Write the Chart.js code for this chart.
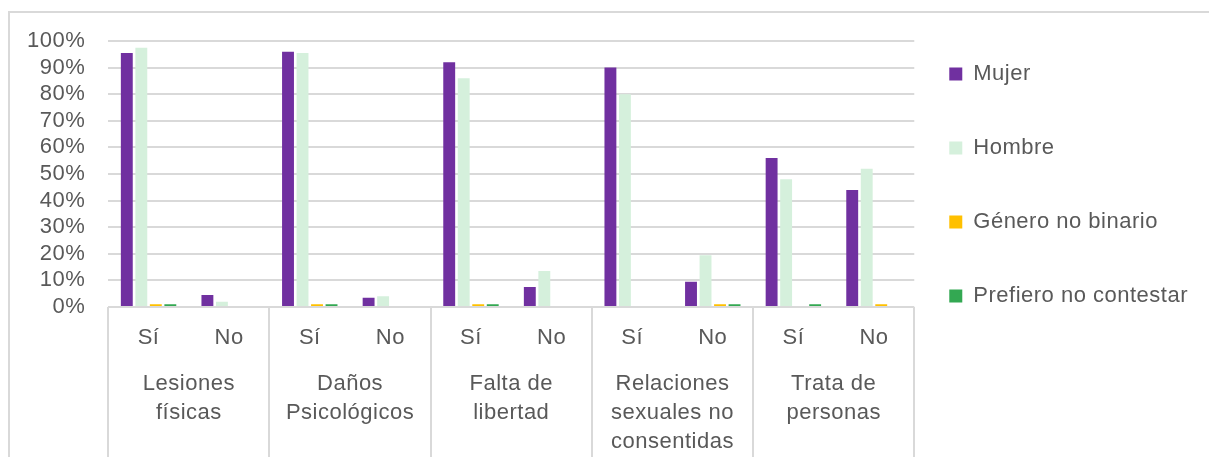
<!DOCTYPE html>
<html>
<head>
<meta charset="utf-8">
<script src="https://cdn.jsdelivr.net/npm/chart.js@4.4.1/dist/chart.umd.min.js"></script>
<style>
  body { margin: 0; background: #fff; }
  #frame { position: absolute; left: 8px; top: 11px; width: 1220px; height: 470px; border: 2px solid #d9d9d9; box-sizing: border-box; }
  #wrap { position: absolute; left: 0; top: 0; width: 1209px; height: 457px; }
</style>
</head>
<body>
<div id="frame"></div>
<div id="wrap"><canvas id="chart1"></canvas></div>
<script>
// sub-categories on the first axis line, groups below them
const answers = ['Sí', 'No', 'Sí', 'No', 'Sí', 'No', 'Sí', 'No', 'Sí', 'No'];
const groups = [
  ['Lesiones', 'físicas'],
  ['Daños', 'Psicológicos'],
  ['Falta de', 'libertad'],
  ['Relaciones', 'sexuales no', 'consentidas'],
  ['Trata de', 'personas']
];
const seriesNames = ['Mujer', 'Hombre', 'Género no binario', 'Prefiero no contestar'];

// percentages
const mujer    = [95.5, 4.5, 96, 3.5, 92, 7.5, 90, 9.5, 56, 44];
const hombre   = [97.5, 2, 95.5, 4, 86, 13.5, 80, 19.5, 48, 52];
const noBinario = [1, 0, 1, 0, 1, 0, 0, 1, 0, 1];
const noContesta = [1, 0, 1, 0, 1, 0, 0, 1, 1, 0];

const yTicks = [0, 10, 20, 30, 40, 50, 60, 70, 80, 90, 100];

const colors = ['#7030a0', '#d5f0dc', '#ffc000', '#33a852'];
const grey = '#d9d9d9';
const textColor = '#595959';
const fontFam = '"Liberation Sans", Arial, sans-serif';

let ctx = document.getElementById('chart1').getContext('2d');

// the original text is a bit wider than Liberation Sans
const spacing = {
  id: 'spacing',
  beforeUpdate: (ch) => { ch.ctx.letterSpacing = '0.5px'; },
  beforeDraw: (ch) => { ch.ctx.letterSpacing = '0.5px'; }
};

let chart = new Chart(ctx, {
  type: 'bar',
  data: {
    labels: answers,
    datasets: [mujer, hombre, noBinario, noContesta].map((vals, i) => ({
      label: seriesNames[i],
      data: vals,
      backgroundColor: colors[i],
      borderWidth: 0,
      categoryPercentage: 0.72,
      barPercentage: 0.82
    }))
  },
  plugins: [spacing],
  options: {
    responsive: true,
    maintainAspectRatio: false,
    animation: false,
    layout: { padding: { left: 4, right: 11, top: 28, bottom: 0 } },
    scales: {
      x: {
        offset: true,
        border: { display: false },
        grid: {
          offset: true,
          drawOnChartArea: false,
          tickLength: 150,
          lineWidth: 2,
          color: (c) => (c.index === undefined || c.index % 2 === 0) ? grey : 'rgba(0,0,0,0)'
        },
        ticks: {
          padding: -132,
          autoSkip: false,
          maxRotation: 0,
          color: textColor,
          font: { family: fontFam, size: 22 }
        },
        afterFit: (s) => { s.height = 55; }
      },
      x2: {
        type: 'category',
        position: 'bottom',
        labels: groups,
        offset: true,
        border: { display: false },
        grid: { display: false },
        ticks: {
          padding: 0,
          autoSkip: false,
          maxRotation: 0,
          color: textColor,
          font: { family: fontFam, size: 22, lineHeight: 1.3 }
        },
        afterFit: (s) => { s.height = 95; }
      },
      y: {
        min: 0,
        max: 100,
        border: { display: false },
        afterBuildTicks: (s) => { s.ticks = yTicks.map(v => ({ value: v })); },
        grid: { color: grey, lineWidth: 2, drawTicks: false },
        ticks: {
          padding: 23,
          autoSkip: false,
          color: textColor,
          font: { family: fontFam, size: 22 },
          callback: (v) => v + '%'
        }
      }
    },
    plugins: {
      title: {
        display: true,
        text: '',
        position: 'top',
        fullSize: false,
        padding: 0,
        font: { size: 13, lineHeight: 1 }
      },
      legend: {
        position: 'right',
        align: 'start',
        labels: {
          boxWidth: 13,
          boxHeight: 13,
          padding: 35,
          color: textColor,
          font: { family: fontFam, size: 22, lineHeight: '39px' },
          generateLabels: (ch) => ch.data.datasets.map((d, i) => ({
            text: [d.label],
            fillStyle: d.backgroundColor,
            strokeStyle: d.backgroundColor,
            lineWidth: 0,
            fontColor: textColor,
            hidden: false,
            datasetIndex: i
          }))
        }
      },
      tooltip: { enabled: false }
    }
  }
});
</script>
</body>
</html>
